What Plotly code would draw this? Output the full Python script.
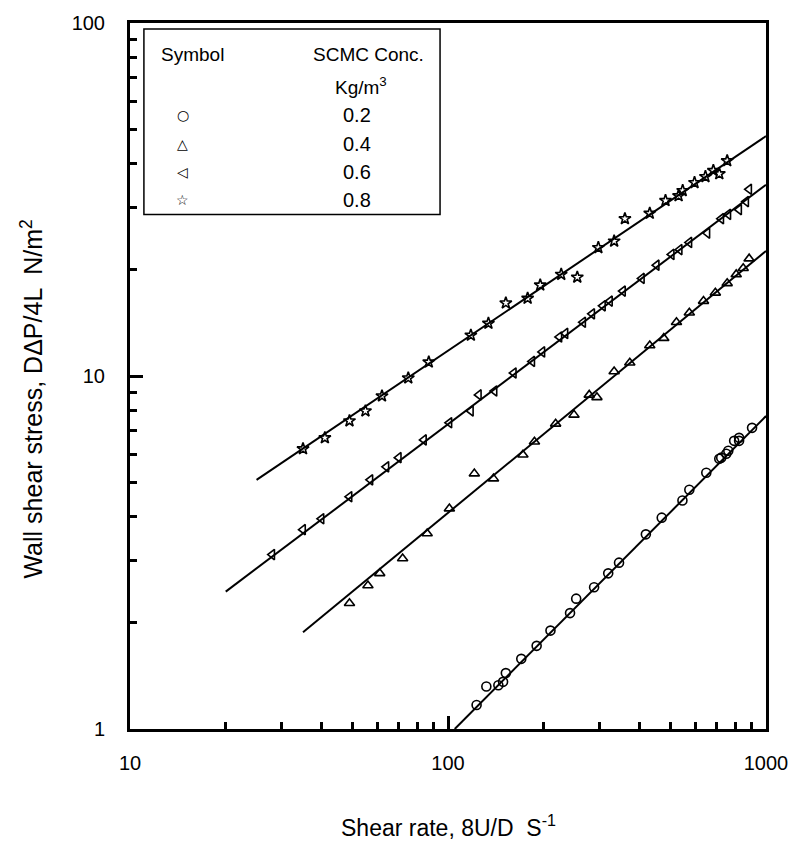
import plotly.graph_objects as go

# ---- data ----
x_02 = [123, 132, 144, 149, 152, 170, 190, 210, 242, 253, 288, 319, 345, 419, 470, 546, 574, 649, 713, 723, 750, 761, 794, 823, 823, 904]
y_02 = [1.17, 1.32, 1.33, 1.36, 1.44, 1.58, 1.72, 1.90, 2.13, 2.34, 2.52, 2.76, 2.96, 3.56, 3.97, 4.44, 4.76, 5.32, 5.83, 5.87, 6.02, 6.14, 6.55, 6.55, 6.68, 7.13]

x_04 = [49, 56, 61, 72, 86, 101, 121, 139, 172, 187, 218, 249, 278, 294, 333, 373, 431, 477, 523, 574, 636, 693, 755, 806, 848, 885]
y_04 = [2.27, 2.55, 2.76, 3.04, 3.58, 4.21, 5.29, 5.12, 5.98, 6.51, 7.32, 7.76, 8.84, 8.70, 10.3, 10.9, 12.2, 12.8, 14.2, 15.1, 16.3, 17.2, 18.3, 19.4, 20.2, 21.5]

x_06 = [28, 35, 40, 49, 57, 64, 70, 84, 101, 118, 125, 140, 161, 184, 198, 224, 234, 266, 284, 307, 323, 355, 407, 453, 505, 535, 574, 654, 723, 761, 823, 866, 885]
y_06 = [3.12, 3.67, 3.94, 4.55, 5.08, 5.53, 5.87, 6.59, 7.37, 7.96, 8.84, 9.07, 10.2, 11.0, 11.7, 12.9, 13.2, 14.2, 15.0, 15.8, 16.3, 17.4, 18.9, 20.6, 22.1, 22.8, 23.9, 25.4, 27.9, 28.7, 29.6, 31.2, 33.8]

x_08 = [35, 41, 49, 55, 62, 75, 87, 118, 134, 152, 178, 195, 227, 255, 297, 333, 360, 431, 483, 531, 547, 596, 645, 683, 713, 755]
y_08 = [6.22, 6.68, 7.46, 7.96, 8.78, 9.87, 10.95, 13.05, 14.1, 16.1, 16.6, 18.1, 19.4, 19.05, 23.1, 24.1, 27.9, 28.9, 31.4, 32.4, 33.5, 35.3, 36.7, 38.2, 37.4, 40.7]

# fitted power-law lines (end points)
fit_02_x = [105, 1000]; fit_02_y = [1.0, 7.7]
fit_04_x = [35, 1000];  fit_04_y = [1.88, 22.6]
fit_06_x = [20, 1000];  fit_06_y = [2.45, 34.8]
fit_08_x = [25, 1000];  fit_08_y = [5.08, 47.8]

conc_labels = ["0.2", "0.4", "0.6", "0.8"]
legend_symbols = ["○", "△", "◁", "☆"]
x_ticks = [10, 100, 1000]
y_ticks = [1, 10, 100]

FONT = "Liberation Sans, Arial, sans-serif"

fig = go.Figure()

series = [
    (x_02, y_02, "circle-open", fit_02_x, fit_02_y),
    (x_04, y_04, "triangle-up-open", fit_04_x, fit_04_y),
    (x_06, y_06, "triangle-left-open", fit_06_x, fit_06_y),
    (x_08, y_08, "star-open", fit_08_x, fit_08_y),
]
for xs, ys, sym, fx, fy in series:
    fig.add_trace(go.Scatter(x=fx, y=fy, mode="lines",
                             line=dict(color="black", width=2), showlegend=False,
                             hoverinfo="skip"))
    fig.add_trace(go.Scatter(x=xs, y=ys, mode="markers",
                             marker=dict(symbol=sym, size=9, color="black",
                                         line=dict(color="black", width=1.6)),
                             showlegend=False))

axis_common = dict(
    type="log",
    showgrid=False,
    zeroline=False,
    showline=True,
    linecolor="black",
    linewidth=3,
    mirror=True,
    ticks="inside",
    ticklen=13,
    tickwidth=3,
    tickcolor="black",
    tickfont=dict(family=FONT, size=20, color="black"),
    minor=dict(ticks="inside", ticklen=7, tickwidth=3, tickcolor="black",
               dtick="D1", showgrid=False),
)

fig.update_xaxes(range=[1, 3], tickvals=x_ticks, ticktext=[str(v) for v in x_ticks],
                 ticklabelstandoff=14, **axis_common)
fig.update_yaxes(range=[0, 2], tickvals=y_ticks, ticktext=[str(v) for v in y_ticks],
                 ticklabelstandoff=18, **axis_common)

def px(xp):
    return (xp - 130) / 640

def py(yp):
    return (729 - yp) / 708

# legend box
fig.add_shape(type="rect", xref="paper", yref="paper",
              x0=px(144), x1=px(442), y0=py(213), y1=py(27),
              line=dict(color="black", width=1.5), fillcolor="white", layer="above")

def note(xp, yp, text, size, family=FONT, angle=0):
    fig.add_annotation(x=px(xp), y=py(yp), xref="paper", yref="paper", text=text,
                       showarrow=False, xanchor="center", yanchor="middle",
                       textangle=angle,
                       font=dict(family=family, size=size, color="black"))

note(193, 53, "Symbol", 19)
note(370, 53, "SCMC Conc.", 19)
note(362, 84, "Kg/m<sup>3</sup>", 19)
rows_y = [113, 142, 170, 198]
for sym, lab, ry in zip(legend_symbols, conc_labels, rows_y):
    note(183, ry, sym, 14, family="DejaVu Sans")
    note(358, ry, lab, 20)

# axis titles
note(450, 826, "Shear rate, 8U/D  S<sup>-1</sup>", 23)
note(31, 398, "Wall shear stress, DΔP/4L  N/m<sup>2</sup>", 25, angle=-90)

fig.update_layout(
    width=800, height=848,
    margin=dict(l=130, r=30, t=21, b=119),
    paper_bgcolor="white", plot_bgcolor="white",
    showlegend=False,
)

fig.write_html("out.html", config={"displayModeBar": False},
               post_script="document.body.style.margin='0';")
